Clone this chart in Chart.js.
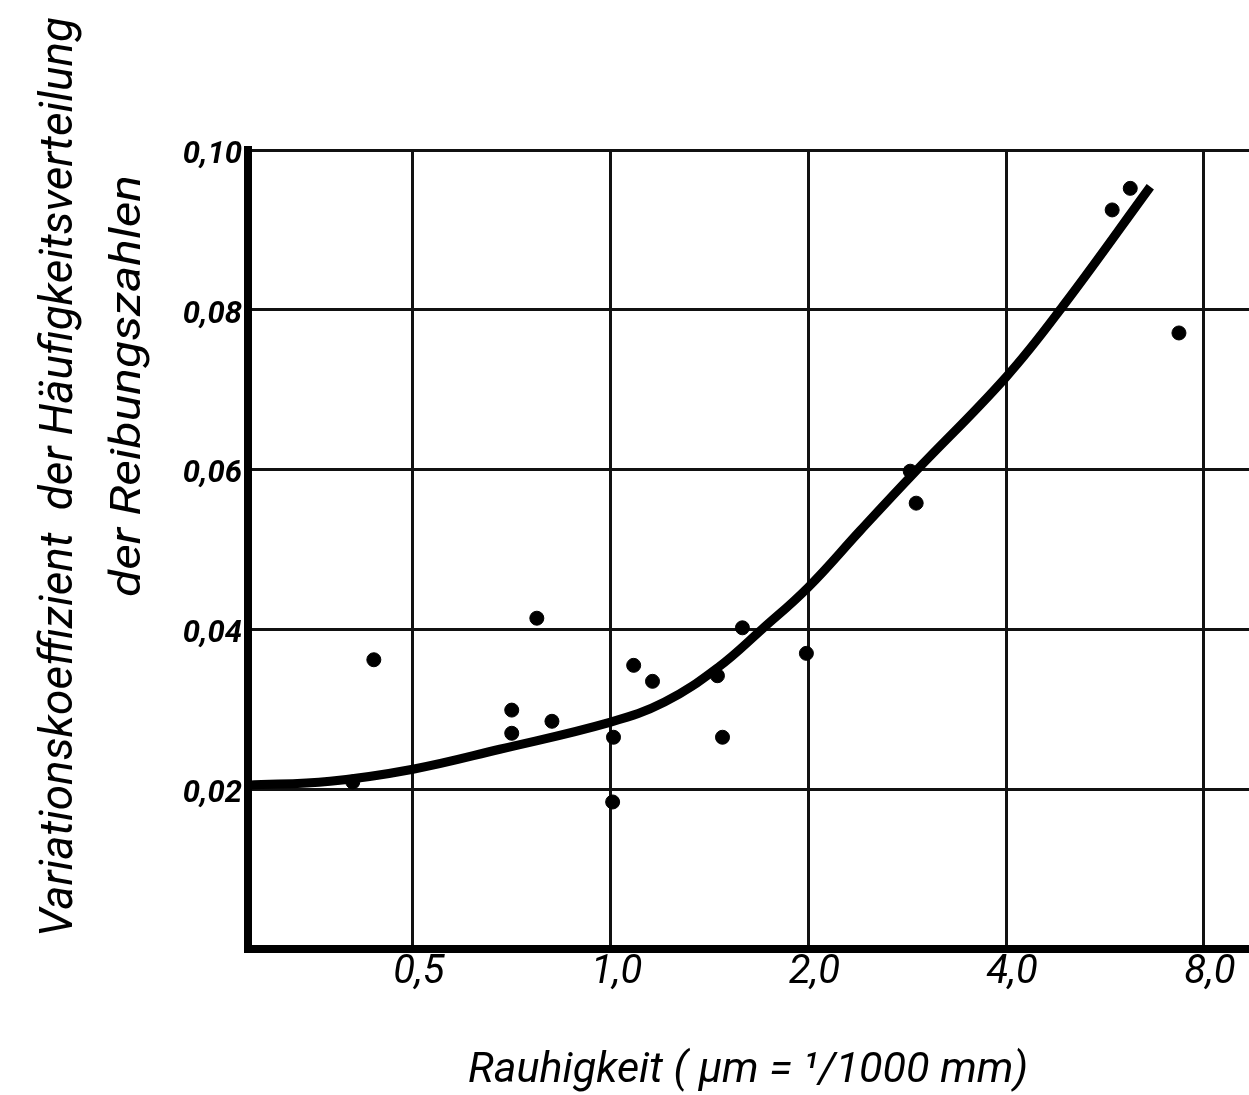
<!doctype html>
<html lang="de">
  <head>
    <meta charset="utf-8">
    <title>Variationskoeffizient / Rauhigkeit</title>
    <style>
      * {
        margin: 0;
        padding: 0;
      }
      body {
        background: white;
      }
      .chartBox {
        width: 1249px;
        height: 1095px;
      }
    </style>
  </head>
  <body>
    <div class="chartBox">
      <canvas id="myChart" width="1249" height="1095"></canvas>
    </div>

    <script src="https://cdn.jsdelivr.net/npm/chart.js"></script>
    <script>
    // setup
    const xTicks = [0.5, 1, 2, 4, 8];
    const yTicks = [0, 0.02, 0.04, 0.06, 0.08, 0.10];

    // measured points (Rauhigkeit, Variationskoeffizient)
    const pointX = [0.405, 0.436, 0.707, 0.707, 0.772, 0.814, 1.007, 1.01, 1.084, 1.158,
                    1.454, 1.48, 1.587, 1.986, 2.858, 2.918, 5.80, 6.18, 7.33];
    const pointY = [0.0209, 0.0362, 0.0299, 0.0270, 0.0414, 0.0285, 0.0184, 0.0265, 0.0355, 0.0335,
                    0.0342, 0.0265, 0.0402, 0.0370, 0.0598, 0.0558, 0.0925, 0.0952, 0.0771];

    // drawn trend curve
    const curveX = [0.2805, 0.374, 0.5, 0.678, 1.0, 1.208, 1.455, 1.704, 2.0, 2.40, 2.89, 4.0, 4.885, 6.63];
    const curveY = [0.0205, 0.0210, 0.0225, 0.0250, 0.0284, 0.0309, 0.0352, 0.0401, 0.0453, 0.0524, 0.0595, 0.0716, 0.0805, 0.0954];

    const yTitle = ['Variationskoeffizient  der Häufigkeitsverteilung', 'der Reibungszahlen'];
    const xTitle = 'Rauhigkeit ( µm = ¹/1000 mm)';

    const comma = (v, d) => v.toFixed(d).replace('.', ',');

    // titles drawn in the condensed lettering of the original
    function fitText(ctx, text, x, y, len, size, rot) {
      ctx.save();
      ctx.translate(x, y);
      ctx.rotate(rot);
      ctx.font = 'italic ' + size + 'px Roboto';
      ctx.fillStyle = '#000';
      ctx.textAlign = 'center';
      ctx.textBaseline = 'alphabetic';
      const w = ctx.measureText(text).width;
      ctx.scale(len / w, 1);
      ctx.fillText(text, 0, 0);
      ctx.restore();
    }

    const titlePlugin = {
      id: 'titles',
      afterDraw(chart) {
        const ctx = chart.ctx;
        fitText(ctx, yTitle[0], 72, 477, 920, 46, -Math.PI / 2);
        fitText(ctx, yTitle[1], 140, 386, 422, 42, -Math.PI / 2);
        fitText(ctx, xTitle, 748, 1082, 560, 42, 0);
      }
    };

    Chart.defaults.font.family = 'Roboto';
    Chart.defaults.color = '#000';

    const data = {
      datasets: [{
        label: 'Kurve',
        data: curveX.map((x, i) => ({x: x, y: curveY[i]})),
        showLine: true,
        borderColor: '#000',
        borderWidth: 9,
        pointRadius: 0,
        tension: 0.4
      }, {
        label: 'Messwerte',
        data: pointX.map((x, i) => ({x: x, y: pointY[i]})),
        showLine: false,
        backgroundColor: '#000',
        borderColor: '#000',
        pointRadius: 7
      }]
    };

    // config
    const config = {
      type: 'scatter',
      data,
      options: {
        responsive: false,
        devicePixelRatio: 1,
        animation: false,
        layout: {
          autoPadding: false,
          padding: {top: 150, left: 0, right: 0, bottom: 0}
        },
        plugins: {
          legend: {display: false},
          tooltip: {enabled: false}
        },
        scales: {
          x: {
            type: 'logarithmic',
            min: 0.2805,
            max: 9.37,
            afterBuildTicks: (scale) => {
              scale.ticks = xTicks.map(v => ({value: v}));
            },
            afterFit: (scale) => {
              scale.height = 146;
            },
            ticks: {
              autoSkip: false,
              maxRotation: 0,
              padding: 0,
              labelOffset: 6,
              font: {size: 40, style: 'italic'},
              callback: (v) => comma(v, 1)
            },
            grid: {
              color: '#111',
              lineWidth: 3,
              drawTicks: false
            },
            border: {
              color: '#000',
              width: 8
            }
          },
          y: {
            min: 0,
            max: 0.1,
            afterBuildTicks: (scale) => {
              scale.ticks = yTicks.map(v => ({value: v}));
            },
            afterFit: (scale) => {
              scale.width = 248;
            },
            ticks: {
              padding: 6,
              labelOffset: 5,
              font: {size: 31, style: 'italic', weight: 'bold'},
              callback: (v) => v === 0 ? '' : comma(v, 2)
            },
            grid: {
              color: '#111',
              lineWidth: 3,
              drawTicks: false
            },
            border: {
              color: '#000',
              width: 8
            }
          }
        }
      },
      plugins: [titlePlugin]
    };

    // render init block
    const myChart = new Chart(
      document.getElementById('myChart'),
      config
    );
    </script>
  </body>
</html>
